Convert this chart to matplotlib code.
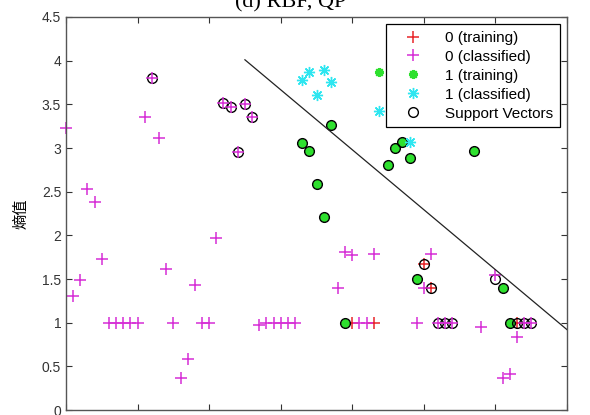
import numpy as np
import matplotlib.pyplot as plt
from matplotlib.ticker import FormatStrFormatter

# class 0, training points
train0_x = [4.0, 4.3, 5.0, 5.1, 6.3]
train0_y = [1.0, 1.0, 1.67, 1.40, 1.0]

# class 0, classified points
class0_x = [0.0, 0.1, 0.2, 0.3, 0.4, 0.5, 0.6, 0.7, 0.8, 0.9, 1.0,
            1.1, 1.2, 1.3, 1.4, 1.5, 1.6, 1.7, 1.8, 1.9, 2.0, 2.1,
            2.2, 2.3, 2.4, 2.5, 2.6, 2.7, 2.8, 2.9, 3.0, 3.1, 3.2,
            3.8, 3.9, 4.0, 4.1, 4.2, 4.3, 4.9, 5.0, 5.1, 5.2, 5.3, 5.4,
            5.8, 6.0, 6.1, 6.2, 6.3, 6.4, 6.5]
class0_y = [3.23, 1.30, 1.49, 2.53, 2.38, 1.73, 1.0, 1.0, 1.0, 1.0, 1.0,
            3.36, 3.80, 3.12, 1.62, 1.0, 0.37, 0.58, 1.43, 1.0, 1.0, 1.97,
            3.51, 3.47, 2.95, 3.50, 3.36, 0.97, 1.0, 1.0, 1.0, 1.0, 1.0,
            1.40, 1.81, 1.78, 1.0, 1.0, 1.79, 1.0, 1.40, 1.79, 1.0, 1.0, 1.0,
            0.95, 1.55, 0.37, 0.41, 0.84, 1.0, 1.0]

# class 1, training points
train1_x = [3.3, 3.4, 3.5, 3.6, 3.7, 3.9, 4.37, 4.5, 4.6, 4.7, 4.8, 4.9,
            5.7, 6.1, 6.2]
train1_y = [3.06, 2.96, 2.59, 2.21, 3.26, 1.0, 3.87, 2.81, 3.00, 3.07,
            2.89, 1.50, 2.97, 1.40, 1.0]

# class 1, classified points
class1_x = [3.3, 3.4, 3.5, 3.6, 3.7, 4.37, 4.8]
class1_y = [3.78, 3.87, 3.61, 3.89, 3.76, 3.42, 3.07]

# support vectors
sv_x = [1.2, 2.2, 2.3, 2.4, 2.5, 2.6,
        3.3, 3.4, 3.5, 3.6, 3.7, 3.9, 4.5, 4.6, 4.7, 4.8, 4.9, 5.7, 6.1, 6.2,
        5.0, 5.1, 5.2, 5.3, 5.4, 6.0, 6.3, 6.4, 6.5]
sv_y = [3.80, 3.51, 3.47, 2.95, 3.50, 3.36,
        3.06, 2.96, 2.59, 2.21, 3.26, 1.0, 2.81, 3.00, 3.07, 2.89, 1.50, 2.97, 1.40, 1.0,
        1.67, 1.40, 1.0, 1.0, 1.0, 1.50, 1.0, 1.0, 1.0]

# separating boundary
bound_x = [2.5, 7.0]
bound_y = [4.01, 0.92]

plt.rcParams['font.family'] = ['Liberation Sans', 'DejaVu Sans']

fig = plt.figure(figsize=(5.9, 4.15), dpi=100)
ax = fig.add_axes([66 / 590, 5 / 415, 501 / 590, 393 / 415])

star = (8, 2, 0)
ax.plot(train0_x, train0_y, ls='none', marker='+', ms=8, mew=1.1,
        color='#e8262a', label='0 (training)', clip_on=False)
ax.plot(train1_x, train1_y, ls='none', marker=star, ms=6.5, mew=1.5,
        color='#2ee02e', label='1 (training)', clip_on=False)
ax.plot(sv_x, sv_y, ls='none', marker='o', ms=7, mew=1.0,
        mfc='none', mec='black', label='Support Vectors', clip_on=False)
ax.plot(class0_x, class0_y, ls='none', marker='+', ms=8, mew=1.1,
        color='#d62ed6', label='0 (classified)', clip_on=False)
ax.plot(class1_x, class1_y, ls='none', marker=star, ms=8, mew=1.0,
        color='#2ee6f0', label='1 (classified)', clip_on=False)
ax.plot(bound_x, bound_y, color='#222222', lw=0.9)

ax.set_xlim(0, 7)
ax.set_ylim(0, 4.5)
ax.set_xticks(np.arange(0, 8, 1))
ax.set_xticklabels([])
ax.set_yticks(np.arange(0, 4.51, 0.5))
ax.yaxis.set_major_formatter(FormatStrFormatter('%g'))
ax.tick_params(direction='in', top=True, right=True, length=4,
               labelsize=10, colors='#333333')
for s in ax.spines.values():
    s.set_color('#555555')
    s.set_linewidth(1.0)

ax.set_ylabel('熵值', family=['Noto Sans CJK SC'], fontsize=11, labelpad=9)

# legend in the usual order
h, l = ax.get_legend_handles_labels()
order = ['0 (training)', '0 (classified)', '1 (training)', '1 (classified)',
         'Support Vectors']
hs = [h[l.index(name)] for name in order]
leg = ax.legend(hs, order, loc='upper right', bbox_to_anchor=(0.986, 0.982),
                fontsize=11, fancybox=False, framealpha=1,
                edgecolor='black', borderpad=0.45, labelspacing=0.32,
                handlelength=2.6, handletextpad=0.8, borderaxespad=0)
leg.get_frame().set_linewidth(0.9)

fig.text(291 / 590, 1.0 - 7 / 415, '(d) RBF, QP', family='Liberation Serif',
         fontsize=16, ha='center', va='baseline')

fig.savefig('out.png', dpi=100)
